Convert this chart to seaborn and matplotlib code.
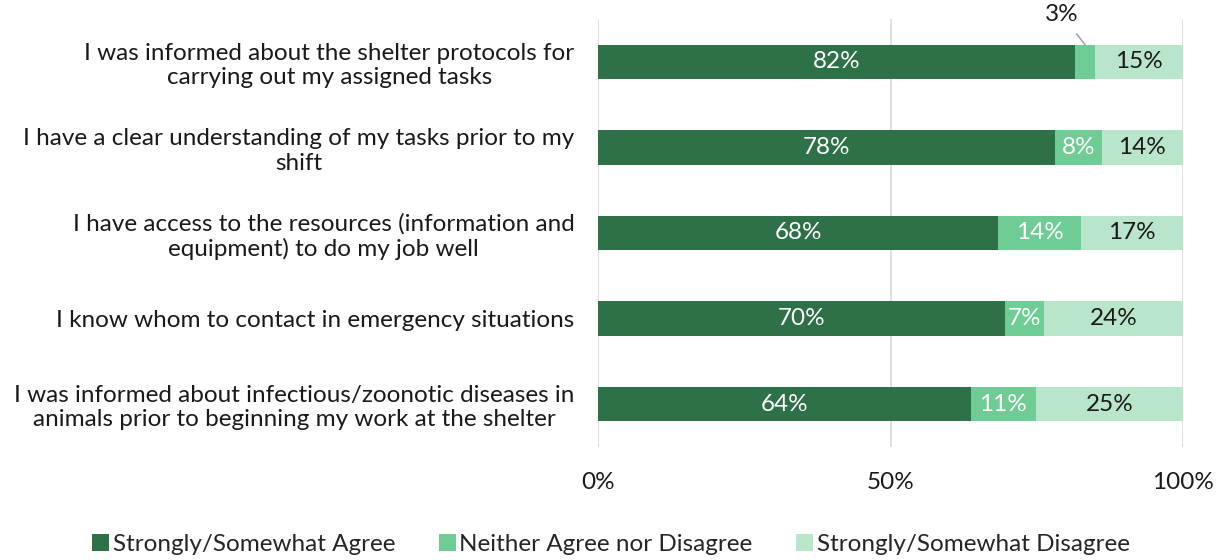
import matplotlib
matplotlib.use("Agg")
import matplotlib.pyplot as plt
import seaborn as sns
import pandas as pd
import numpy as np
from matplotlib.patches import Patch

categories = [
    "I was informed about the shelter protocols for\ncarrying out my assigned tasks",
    "I have a clear understanding of my tasks prior to my\nshift",
    "I have access to the resources (information and\nequipment) to do my job well",
    "I know whom to contact in emergency situations",
    "I was informed about infectious/zoonotic diseases in\nanimals prior to beginning my work at the shelter",
]
agree = [81.6, 78.2, 68.4, 69.6, 63.7]
neither = [3.3, 7.9, 14.2, 6.6, 11.1]
disagree = [15.1, 13.9, 17.4, 23.8, 25.2]
series_names = ["Strongly/Somewhat Agree", "Neither Agree nor Disagree", "Strongly/Somewhat Disagree"]
colors = ["#2E7149", "#6FCC94", "#B9E5CB"]

sns.set_theme(style="white")
plt.rcParams["font.family"] = ["Lato", "DejaVu Sans"]

df = pd.DataFrame({"cat": categories, "a": agree, "n": neither, "d": disagree})
df["c1"] = df["a"]
df["c2"] = df["a"] + df["n"]
df["c3"] = df["a"] + df["n"] + df["d"]

fig = plt.figure(figsize=(12.22, 5.6), dpi=100)
ax = fig.add_axes([0.4894, 0.202, 0.4787, 0.764])

for col, c in zip(["c3", "c2", "c1"], [colors[2], colors[1], colors[0]]):
    sns.barplot(data=df, y="cat", x=col, orient="h", color=c, width=0.4,
                ax=ax, saturation=1, edgecolor="none", linewidth=0)

fs = 17.5
ax.set_xlim(0, 100)
ax.set_xticks([0, 50, 100])
ax.set_xticklabels(["0%", "50%", "100%"], fontsize=fs, color="#1a1a1a")
ax.tick_params(axis="x", pad=18, length=0)
ax.tick_params(axis="y", length=0, pad=17)
ax.set_yticklabels(categories, fontsize=fs, color="#1a1a1a")
for lbl in ax.get_yticklabels():
    lbl.set_horizontalalignment("right")
    lbl.set_multialignment("center")
ax.set_xlabel("")
ax.set_ylabel("")
for s in ax.spines.values():
    s.set_visible(False)
ax.grid(axis="x", color="#d9d9d9", linewidth=1.2)
ax.set_axisbelow(True)

for i in range(len(categories)):
    a, n, d = agree[i], neither[i], disagree[i]
    ax.text(a / 2, i, f"{a:.0f}%", ha="center", va="center", color="white", fontsize=fs)
    if n >= 5:
        ax.text(a + n / 2, i, f"{n:.0f}%", ha="center", va="center", color="white", fontsize=fs)
    else:
        ax.annotate(f"{n:.0f}%", xy=(a + n / 2, i - 0.2), xytext=(a + n / 2 - 4.0, i - 0.55),
                    ha="center", va="center", fontsize=fs, color="#1a1a1a",
                    arrowprops=dict(arrowstyle="-", color="#a6a6a6", lw=1.2,
                                    shrinkA=5, shrinkB=0))
    ax.text(a + n + d / 2, i, f"{d:.0f}%", ha="center", va="center",
            color="#1a1a1a", fontsize=fs)

handles = [Patch(facecolor=c, edgecolor="none") for c in colors]
fig.legend(handles, series_names, loc="center", bbox_to_anchor=(0.5, 0.028), ncol=3,
           frameon=False, fontsize=fs, handlelength=0.7, handleheight=0.7,
           handletextpad=0.15, columnspacing=1.8)

fig.savefig("out.png", dpi=100)
